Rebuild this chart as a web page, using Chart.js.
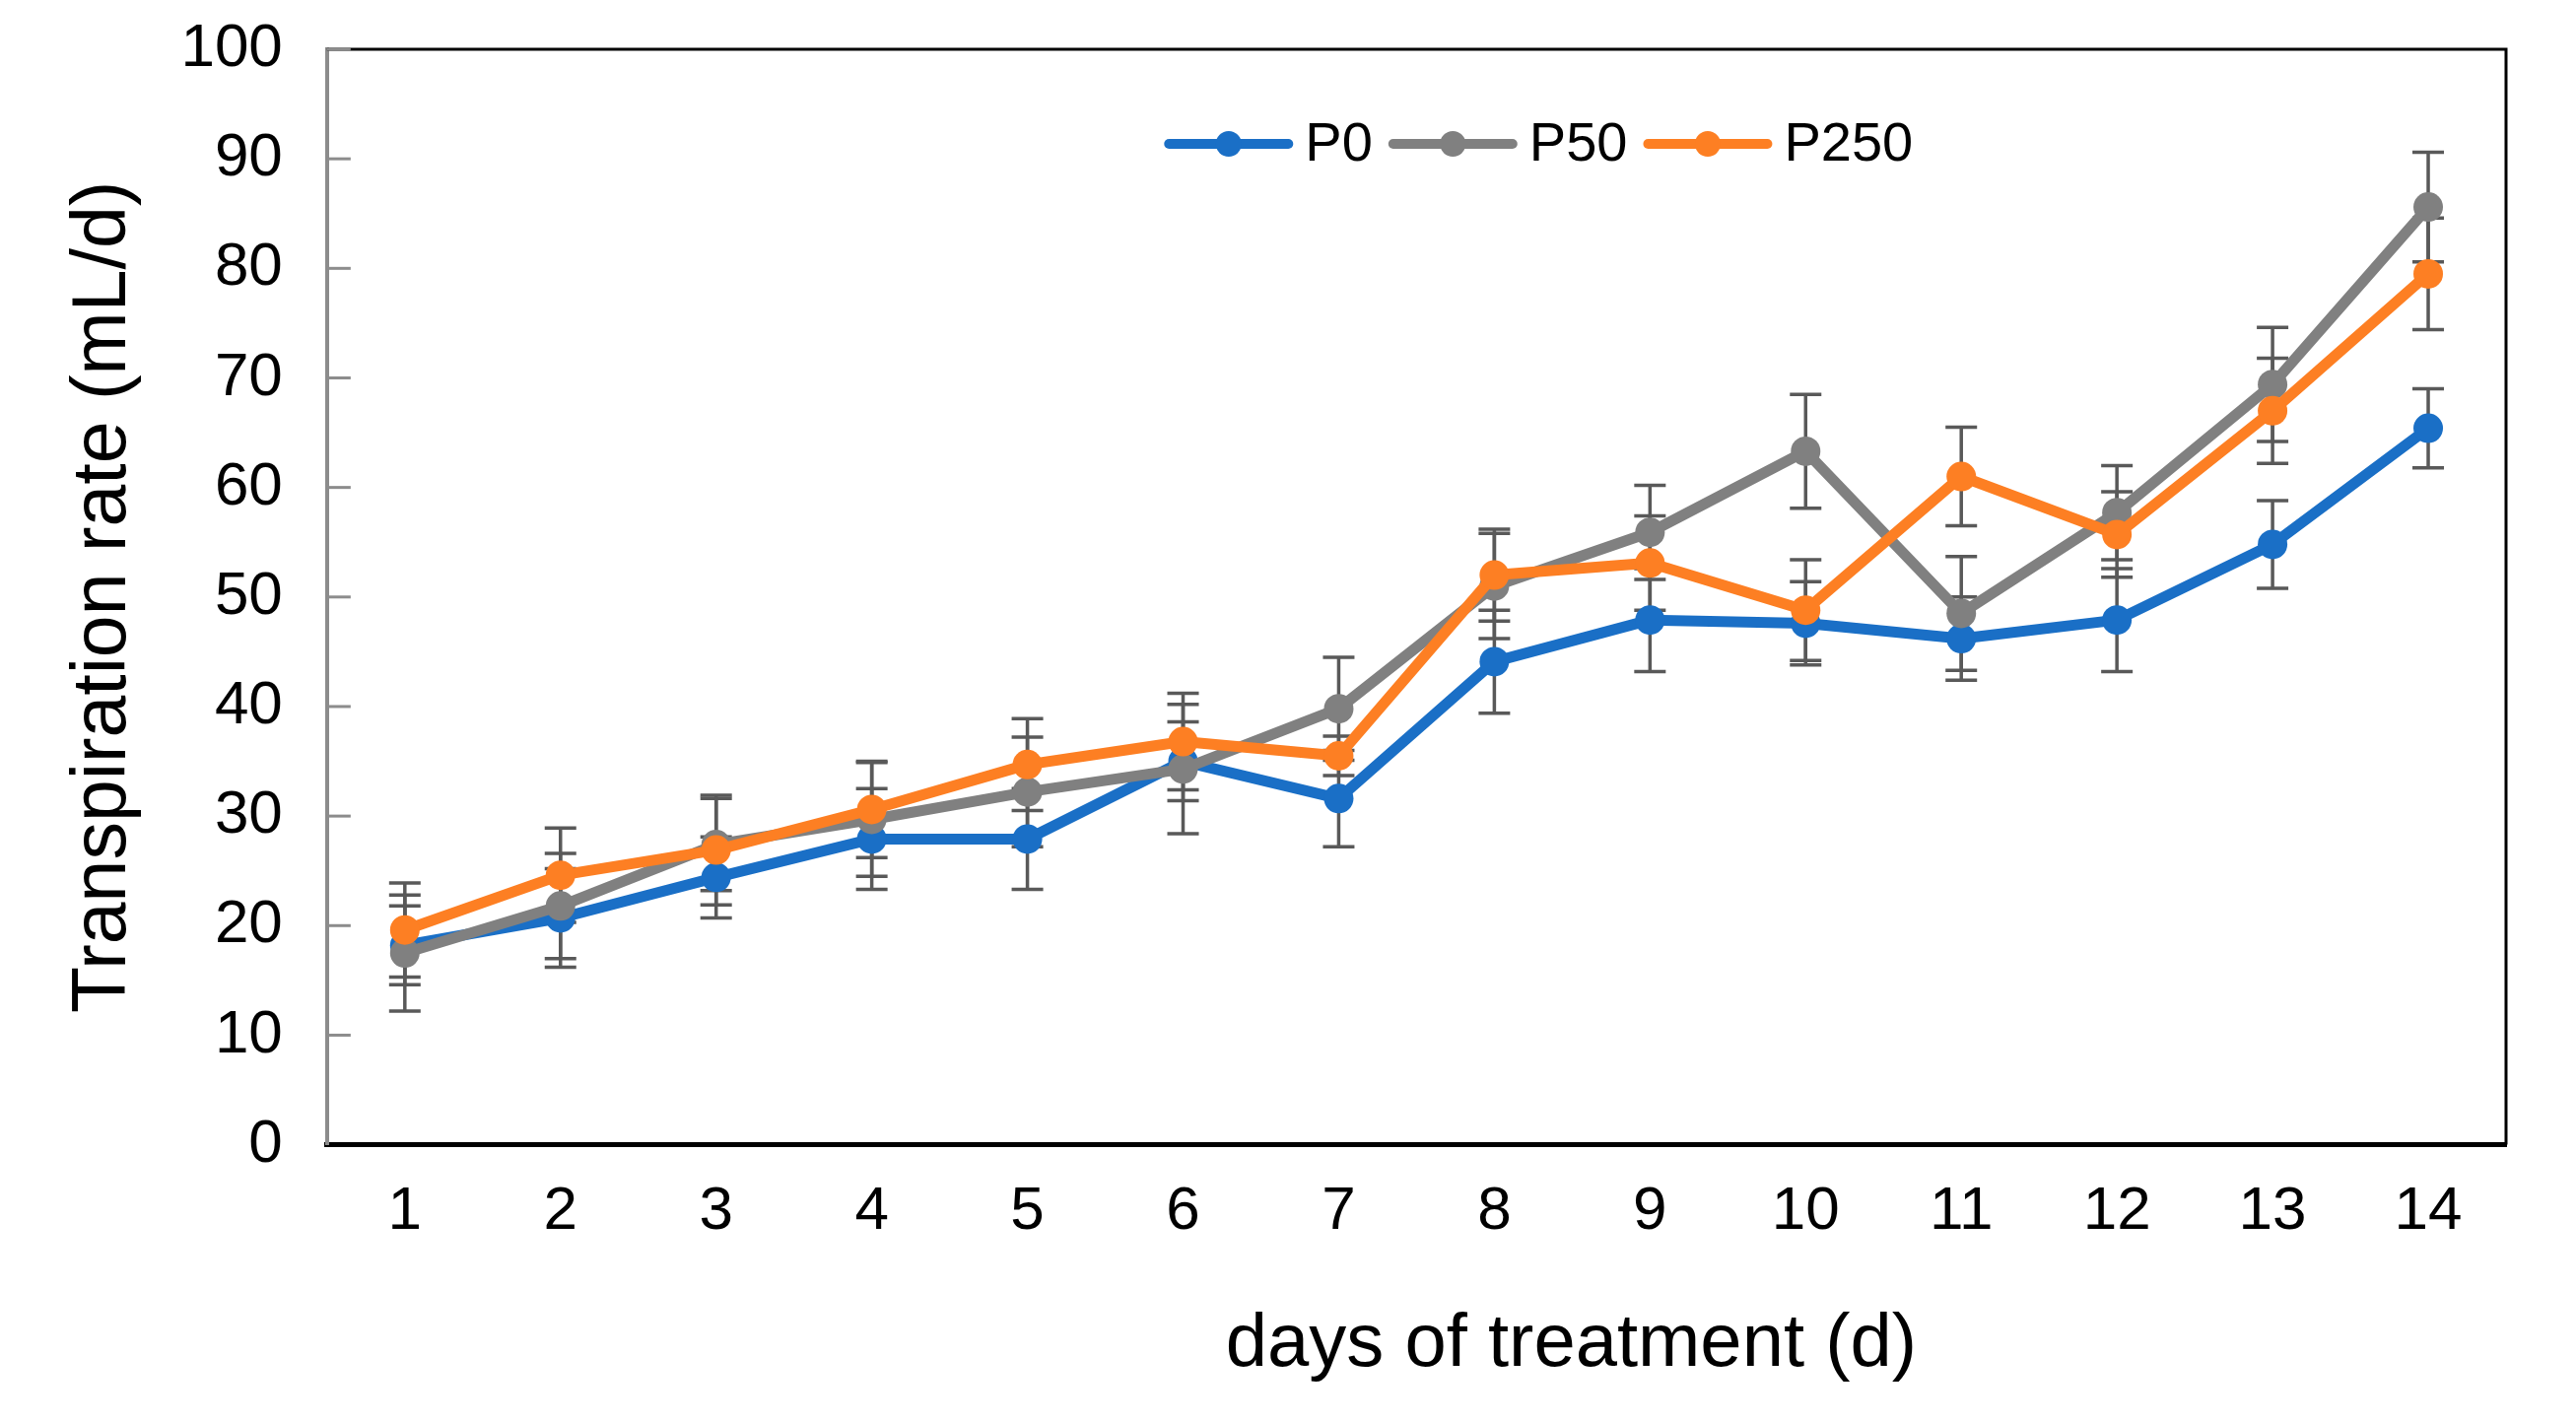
<!DOCTYPE html>
<html>
<head>
<meta charset="utf-8">
<script src="https://cdn.jsdelivr.net/npm/chart.js@4.4.1/dist/chart.umd.min.js"></script>
<style>
    html, body { margin: 0; padding: 0; background: #ffffff; }
    #wrap { width: 2614px; height: 1444px; }
</style>
</head>
<body>
<div id="wrap"><canvas id="transpiration-canvas" width="2614" height="1444"></canvas></div>
<script>
// data
const days = ["1", "2", "3", "4", "5", "6", "7", "8", "9", "10", "11", "12", "13", "14"];

const p0_mean   = [18.2, 20.7, 24.4, 27.9, 27.9, 35.0, 31.6, 44.1, 47.9, 47.6, 46.2, 47.9, 54.8, 65.4];
const p0_err    = [3.6, 4.5, 3.7, 4.6, 4.6, 3.6, 4.4, 4.7, 4.7, 3.8, 3.8, 4.7, 4.0, 3.6];

const p50_mean  = [17.5, 21.8, 27.4, 29.7, 32.2, 34.3, 39.8, 51.0, 55.9, 63.3, 48.5, 57.7, 69.4, 85.6];
const p50_err   = [5.3, 4.8, 4.2, 5.2, 5.0, 5.9, 4.7, 4.8, 4.3, 5.2, 5.2, 4.3, 5.2, 5.0];

const p250_mean = [19.6, 24.6, 26.9, 30.6, 34.7, 36.8, 35.5, 52.0, 53.1, 48.8, 61.0, 55.7, 67.0, 79.5];
const p250_err  = [4.3, 4.3, 5.0, 4.4, 4.2, 4.4, 1.8, 4.2, 4.3, 4.6, 4.5, 3.9, 4.8, 5.1];

const y_ticks = [0, 10, 20, 30, 40, 50, 60, 70, 80, 90, 100];

const FONT = "'Liberation Sans', Arial, sans-serif";
const ERR_COLOR = "#595959";

// error bars go under the lines and markers
const errorBarsPlugin = {
    id: "errorBars",
    beforeDatasetsDraw: function (chart) {
        const ctx = chart.ctx;
        const y = chart.scales.y;
        ctx.save();
        ctx.strokeStyle = ERR_COLOR;
        ctx.lineWidth = 3.5;
        chart.data.datasets.forEach(function (ds, di) {
            const meta = chart.getDatasetMeta(di);
            ds.errors.forEach(function (e, i) {
                const x = meta.data[i].x;
                const top = y.getPixelForValue(ds.data[i] + e);
                const bot = y.getPixelForValue(ds.data[i] - e);
                ctx.beginPath();
                ctx.moveTo(x, top);
                ctx.lineTo(x, bot);
                ctx.moveTo(x - 16, top);
                ctx.lineTo(x + 16, top);
                ctx.moveTo(x - 16, bot);
                ctx.lineTo(x + 16, bot);
                ctx.stroke();
            });
        });
        ctx.restore();
    }
};

// frame, inward ticks, legend inside the plot, x title
const framePlugin = {
    id: "frame",
    afterDraw: function (chart) {
        const ctx = chart.ctx;
        const a = chart.chartArea;
        const y = chart.scales.y;
        ctx.save();

        // top and right border
        ctx.strokeStyle = "#000000";
        ctx.lineWidth = 3;
        ctx.beginPath();
        ctx.moveTo(a.left, a.top);
        ctx.lineTo(a.right, a.top);
        ctx.lineTo(a.right, a.bottom);
        ctx.stroke();

        // y ticks pointing inside
        ctx.strokeStyle = "#8c8c8c";
        ctx.lineWidth = 3;
        y_ticks.forEach(function (v) {
            if (v === 0) return;
            const py = y.getPixelForValue(v);
            ctx.beginPath();
            ctx.moveTo(a.left, py);
            ctx.lineTo(a.left + 24, py);
            ctx.stroke();
        });

        // legend
        ctx.font = "56px " + FONT;
        ctx.textBaseline = "middle";
        ctx.textAlign = "left";
        const lineLen = 131, gapText = 12, gapItem = 16;
        const items = chart.data.datasets.map(function (ds) {
            return { label: ds.label, color: ds.borderColor, w: ctx.measureText(ds.label).width };
        });
        let total = 0;
        items.forEach(function (it, i) {
            total += lineLen + gapText + it.w + (i < items.length - 1 ? gapItem : 0);
        });
        let lx = a.left + a.width * 0.556 - total / 2;
        const ly = a.top + 96;
        items.forEach(function (it) {
            ctx.strokeStyle = it.color;
            ctx.lineWidth = 10;
            ctx.lineCap = "round";
            ctx.beginPath();
            ctx.moveTo(lx + 5, ly);
            ctx.lineTo(lx + lineLen - 5, ly);
            ctx.stroke();
            ctx.fillStyle = it.color;
            ctx.beginPath();
            ctx.arc(lx + lineLen / 2, ly, 13, 0, Math.PI * 2);
            ctx.fill();
            ctx.fillStyle = "#000000";
            ctx.fillText(it.label, lx + lineLen + gapText, ly + 2);
            lx += lineLen + gapText + it.w + gapItem;
        });

        // x axis title, sits right of centre as in the figure
        ctx.font = "76px " + FONT;
        ctx.textAlign = "center";
        ctx.fillStyle = "#000000";
        ctx.fillText("days of treatment (d)", (a.left + a.right) / 2 + 157, a.bottom + 203);

        ctx.restore();
    }
};

function makeSet(label, values, errors, color, order) {
    return {
        label: label,
        data: values,
        errors: errors,
        borderColor: color,
        backgroundColor: color,
        pointBackgroundColor: color,
        pointBorderColor: color,
        borderWidth: 11,
        pointRadius: 15,
        pointHoverRadius: 15,
        pointBorderWidth: 0,
        borderJoinStyle: "round",
        borderCapStyle: "round",
        tension: 0,
        fill: false,
        order: order
    };
}

const ctx = document.getElementById("transpiration-canvas").getContext("2d");
const transpiration_chart = new Chart(ctx, {
    type: "line",
    data: {
        labels: days,
        datasets: [
            makeSet("P0", p0_mean, p0_err, "#1a6fc6", 3),
            makeSet("P50", p50_mean, p50_err, "#808080", 2),
            makeSet("P250", p250_mean, p250_err, "#fd7f23", 1)
        ]
    },
    options: {
        responsive: false,
        animation: false,
        devicePixelRatio: 1,
        layout: {
            padding: { left: 16, right: 71, top: 50, bottom: 146 }
        },
        plugins: {
            legend: { display: false },
            tooltip: { enabled: false }
        },
        scales: {
            x: {
                offset: true,
                grid: { display: false, drawTicks: false },
                border: { display: true, color: "#000000", width: 5 },
                ticks: {
                    color: "#000000",
                    padding: 31,
                    font: { family: FONT, size: 62 }
                }
            },
            y: {
                min: 0,
                max: 100,
                grid: { display: false, drawTicks: false },
                border: { display: true, color: "#8c8c8c", width: 4 },
                ticks: {
                    stepSize: 10,
                    color: "#000000",
                    padding: 45,
                    font: { family: FONT, size: 62 }
                },
                title: {
                    display: true,
                    text: "Transpiration rate (mL/d)",
                    color: "#000000",
                    padding: { top: 44, bottom: -14 },
                    font: { family: FONT, size: 77 }
                },
                // let the layout padding alone decide the top edge
                afterFit: function (scale) {
                    scale.paddingTop = 0;
                    scale.paddingBottom = 0;
                }
            }
        }
    },
    plugins: [errorBarsPlugin, framePlugin]
});
</script>
</body>
</html>
